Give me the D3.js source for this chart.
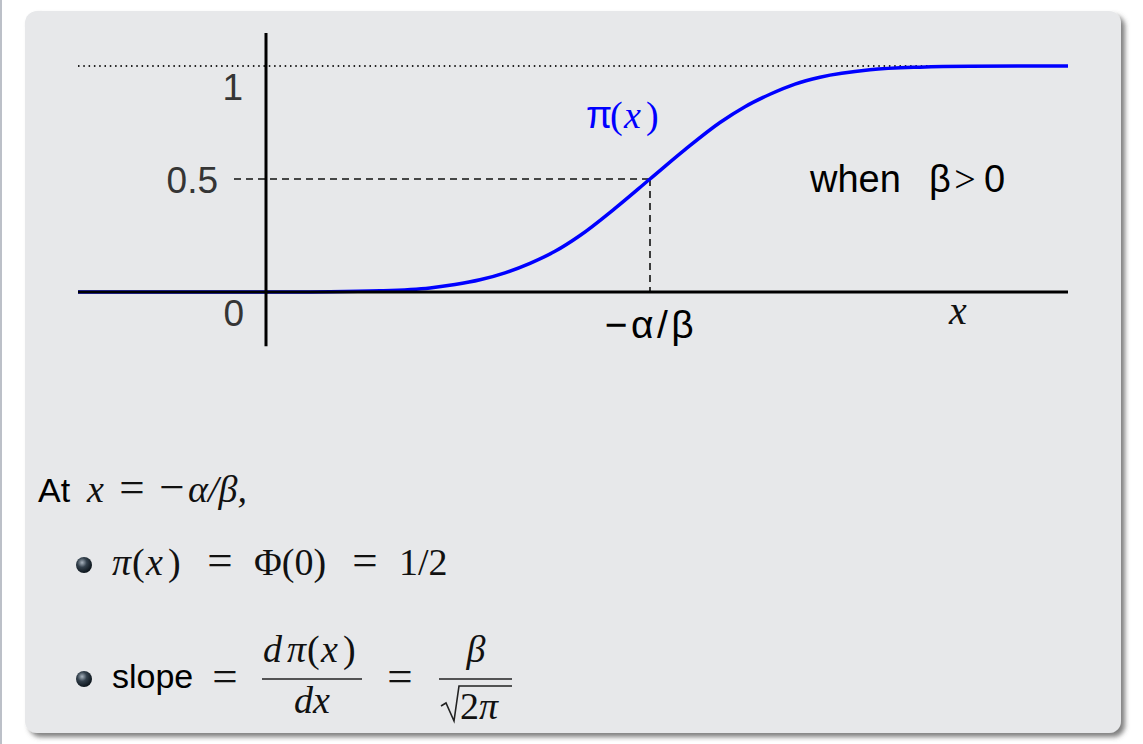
<!DOCTYPE html>
<html>
<head>
<meta charset="utf-8">
<script src="https://cdn.jsdelivr.net/npm/d3@7"></script>
<style>
  html, body { margin: 0; padding: 0; background: #ffffff; }
  svg { display: block; }
</style>
</head>
<body>
<svg id="chart" width="1143" height="744"></svg>
<script>
// ---- data ----
const curveX = [-1.88, 0, 0.64, 1.14, 1.64, 1.89, 2.14, 2.39, 2.64, 2.89, 3.14, 3.49, 3.84, 4.19, 4.54, 4.79, 5.04, 5.29, 5.54, 6.04, 6.54, 7.04, 8.02];
const curveY = [0, 0, 0.001, 0.005, 0.018, 0.033, 0.054, 0.085, 0.127, 0.18, 0.25, 0.37, 0.5, 0.63, 0.75, 0.82, 0.875, 0.92, 0.95, 0.983, 0.995, 0.999, 1.0];
const xDomain = [-1.88, 8.02];
const yAxisExtent = [-0.24, 1.146];
const yTickValues = [0, 0.5, 1];
const yTickLabels = ["0", "0.5", "1"];
const midX = 3.84;       // -alpha/beta
const midY = 0.5;
const xAxisLabel = "x";
const midLabel = "\u2212\u03B1/\u03B2";

const svg = d3.select("#chart");
const defs = svg.append("defs");

const f = defs.append("filter").attr("id", "shadow").attr("x", "-5%").attr("y", "-5%").attr("width", "110%").attr("height", "110%");
f.append("feDropShadow").attr("dx", 4).attr("dy", 4).attr("stdDeviation", 2.5).attr("flood-color", "#555").attr("flood-opacity", 0.75);

const g = defs.append("radialGradient").attr("id", "ball").attr("cx", "38%").attr("cy", "35%").attr("r", "65%");
g.append("stop").attr("offset", "0%").attr("stop-color", "#a9b4bf");
g.append("stop").attr("offset", "45%").attr("stop-color", "#34414d");
g.append("stop").attr("offset", "100%").attr("stop-color", "#0d151c");

svg.append("rect").attr("x", 0).attr("y", 0).attr("width", 2).attr("height", 744).attr("fill", "#bcc0c8");

svg.append("rect")
  .attr("x", 25).attr("y", 11).attr("width", 1096).attr("height", 722)
  .attr("rx", 12).attr("ry", 12)
  .attr("fill", "#e7e8ea")
  .attr("filter", "url(#shadow)");

const x = d3.scaleLinear().domain(xDomain).range([78, 1068]);
const y = d3.scaleLinear().domain([0, 1]).range([292, 66]);

// dotted line at 1
svg.append("line")
  .attr("x1", x(xDomain[0])).attr("x2", x(xDomain[1]))
  .attr("y1", y(1)).attr("y2", y(1))
  .attr("stroke", "#222").attr("stroke-width", 1.8)
  .attr("stroke-dasharray", "1.5,3.8");

// dashed guides
svg.append("line")
  .attr("x1", x(0) - 32).attr("x2", x(midX))
  .attr("y1", y(midY)).attr("y2", y(midY))
  .attr("stroke", "#111").attr("stroke-width", 1.6)
  .attr("stroke-dasharray", "7,5");
svg.append("line")
  .attr("x1", x(midX)).attr("x2", x(midX))
  .attr("y1", y(midY)).attr("y2", y(0))
  .attr("stroke", "#111").attr("stroke-width", 1.6)
  .attr("stroke-dasharray", "7,5");

// curve
const pts = curveX.map((v, i) => [v, curveY[i]]);
svg.append("path")
  .datum(pts)
  .attr("fill", "none")
  .attr("stroke", "#0000ff")
  .attr("stroke-width", 3.5)
  .attr("d", d3.line().x(d => x(d[0])).y(d => y(d[1])).curve(d3.curveMonotoneX));

// axes
svg.append("line")
  .attr("x1", x(xDomain[0])).attr("x2", x(xDomain[1]))
  .attr("y1", y(0)).attr("y2", y(0))
  .attr("stroke", "#000").attr("stroke-width", 3);
svg.append("line")
  .attr("x1", x(0)).attr("x2", x(0))
  .attr("y1", y(yAxisExtent[0])).attr("y2", y(yAxisExtent[1]))
  .attr("stroke", "#000").attr("stroke-width", 3);

const sans = "'Liberation Sans', Arial, sans-serif";
const serif = "'Liberation Serif', 'Times New Roman', serif";

// y tick labels
const yLabelOffsets = { "0": 34, "0.5": 14, "1": 34 };
const yLabelRight = { "0": 244, "0.5": 218, "1": 243 };
yTickValues.forEach((v, i) => {
  const lab = yTickLabels[i];
  svg.append("text")
    .attr("x", yLabelRight[lab])
    .attr("y", y(v) + yLabelOffsets[lab])
    .attr("text-anchor", "end")
    .attr("font-family", sans)
    .attr("font-size", 37)
    .attr("fill", "#353535")
    .text(lab);
});

// x labels
svg.append("text")
  .attr("x", x(midX) + 1).attr("y", y(0) + 46)
  .attr("text-anchor", "middle")
  .attr("font-family", sans).attr("font-size", 39).attr("letter-spacing", 3.5).attr("fill", "#000")
  .text(midLabel);
svg.append("text")
  .attr("x", 958).attr("y", 324)
  .attr("text-anchor", "middle")
  .attr("font-family", serif).attr("font-style", "italic").attr("font-size", 40).attr("fill", "#111")
  .text(xAxisLabel);

function piece(xp, yp, txt, opts) {
  const t = svg.append("text").attr("x", xp).attr("y", yp)
    .attr("font-family", opts.font || serif)
    .attr("font-size", opts.size || 36)
    .attr("fill", opts.fill || "#111")
    .attr("text-anchor", opts.anchor || "start");
  if (opts.italic) t.attr("font-style", "italic");
  t.text(txt);
  return t;
}

// pi(x) label
const blue = "#0000ff";
piece(586, 128, "\u03C0", { font: sans, size: 38, fill: blue });
piece(610, 128, "(", { size: 38, fill: blue });
piece(624, 128, "x", { italic: true, size: 38, fill: blue });
piece(646, 128, ")", { size: 38, fill: blue });

// when beta > 0
piece(810, 192, "when", { font: sans, size: 38, fill: "#000" });
piece(929, 192, "\u03B2", { font: sans, size: 38, fill: "#000" });
piece(965, 192, ">", { size: 38, fill: "#000", anchor: "middle" });
piece(984, 192, "0", { font: sans, size: 38, fill: "#000" });

// ---- bottom text ----
const opSize = 45;
piece(38, 502, "At", { font: sans, size: 34, fill: "#000" });
piece(87, 502, "x", { italic: true, size: 38 });
piece(132, 502, "=", { size: opSize, anchor: "middle" });
piece(172, 502, "\u2212", { size: opSize, anchor: "middle" });
piece(188, 502, "\u03B1/\u03B2,", { italic: true, size: 38 });

[565, 679].forEach(cy => {
  svg.append("circle").attr("cx", 84).attr("cy", cy).attr("r", 8).attr("fill", "url(#ball)");
});

// pi(x) = Phi(0) = 1/2
piece(112, 575, "\u03C0", { italic: true, size: 38 });
piece(132, 575, "(", { size: 38 });
piece(146, 575, "x", { italic: true, size: 38 });
piece(168, 575, ")", { size: 38 });
piece(220, 575, "=", { size: opSize, anchor: "middle" });
piece(254, 575, "\u03A6(0)", { size: 38 });
piece(365, 575, "=", { size: opSize, anchor: "middle" });
piece(399, 575, "1/2", { size: 38 });

// slope = d pi(x)/dx = beta / sqrt(2 pi)
piece(112, 688, "slope", { font: sans, size: 34, fill: "#000" });
piece(225, 691, "=", { size: opSize, anchor: "middle" });
piece(263, 662, "d", { italic: true, size: 38 });
piece(287, 662, "\u03C0", { italic: true, size: 38 });
piece(307, 662, "(", { size: 38 });
piece(321, 662, "x", { italic: true, size: 38 });
piece(343, 662, ")", { size: 38 });
svg.append("line").attr("x1", 262).attr("x2", 362).attr("y1", 679).attr("y2", 679).attr("stroke", "#222").attr("stroke-width", 1.6);
piece(312, 713, "dx", { italic: true, size: 38, anchor: "middle" });
piece(400, 691, "=", { size: opSize, anchor: "middle" });
piece(476, 662, "\u03B2", { italic: true, size: 38, anchor: "middle" });
svg.append("line").attr("x1", 439).attr("x2", 512).attr("y1", 679).attr("y2", 679).attr("stroke", "#222").attr("stroke-width", 1.6);
svg.append("path")
  .attr("d", "M441,706 L446,703 L454,721 L459,686 L512,686")
  .attr("fill", "none").attr("stroke", "#222").attr("stroke-width", 1.6).attr("stroke-linejoin", "miter");
piece(460, 719, "2", { size: 38 });
piece(479, 719, "\u03C0", { italic: true, size: 38 });
</script>
</body>
</html>
